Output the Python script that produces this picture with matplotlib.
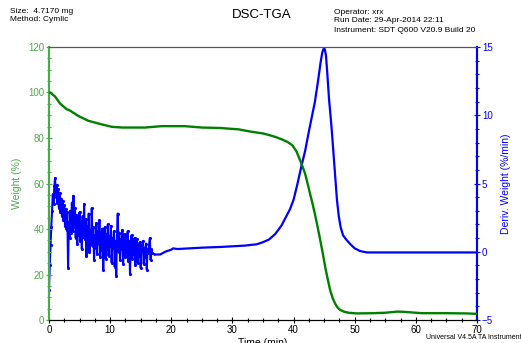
import numpy as np
import matplotlib
matplotlib.use("Agg")
import matplotlib.pyplot as plt
from matplotlib.ticker import MultipleLocator

plt.rcParams['font.family'] = ['Liberation Sans', 'DejaVu Sans']

# ---------------------------------------------------------------------------
# weight curve (%)
w_time = [0, 0.2, 1.0, 1.8, 2.9, 3.3, 3.7, 4.8, 6.4, 8.6, 10.3, 12, 15.7, 18.4,
          22.2, 25, 28, 31, 33, 35, 36, 37, 38, 39, 39.8, 40.5, 41.1, 41.6,
          41.9, 42.3, 42.7, 43.1, 43.5, 43.9, 44.3, 44.8, 45.2, 45.6, 46.0,
          46.4, 46.8, 47.2, 47.6, 48.2, 49.0, 50.3, 53, 55, 57, 58, 61, 65,
          68.3, 70]
w_value = [100, 100, 98.2, 95.2, 92.6, 92.3, 91.6, 89.7, 87.6, 86.0, 84.9, 84.6,
           84.6, 85.2, 85.2, 84.6, 84.4, 83.8, 82.8, 82.0, 81.3, 80.5, 79.5,
           78.3, 76.8, 74.0, 70.0, 66.5, 64.2, 60.0, 55.5, 51.2, 46.5, 41.4,
           36.0, 29.0, 23.0, 17.8, 13.0, 9.6, 7.2, 5.5, 4.5, 3.7, 3.2, 2.9,
           3.0, 3.2, 3.7, 3.6, 3.0, 3.0, 2.9, 2.7]

# derivative (%/min): noisy start, sampled every 0.125 min from 0 to 17 min
d_noise = [-2.8, -1.0, 0.5, 1.8, 3.0, 4.2, 3.5, 4.8,
           5.4, 4.0, 4.9, 3.6, 4.6, 3.2, 4.3, 2.9,
           3.9, 2.6, 3.7, 2.3, 3.4, 1.9, 3.1, 1.6,
           2.9, -1.2, 2.2, 1.0, 3.0, 1.4, 3.6, 1.5,
           4.1, 1.8, 3.2, 1.0, 2.7, 0.6, 2.5, 1.2,
           2.9, 0.8, 2.2, 0.2, 2.6, 1.1, 3.5, 0.9,
           2.4, -0.3, 1.9, 0.5, 2.8, 0.0, 1.6, 0.7,
           3.2, 0.4, 1.8, -0.6, 1.2, 0.3, 2.1, -0.2,
           1.5, 0.6, 2.3, -0.4, 1.4, 0.1, 1.7, -1.3,
           0.9, 1.8, -0.5, 1.3, 0.2, 2.0, -0.3, 1.1,
           0.4, 1.9, -0.8, 1.0, 0.3, 1.5, -1.1, 0.8,
           -1.8, 1.2, 2.8, 0.0, 1.4, -0.6, 0.9, 0.2,
           1.6, -0.9, 0.7, 1.3, -0.4, 1.1, 0.0, 1.5,
           -0.7, 0.8, -1.6, 0.6, 1.2, -0.5, 0.9, -0.2,
           1.0, -1.0, 0.4, 0.9, -0.8, 0.6, -0.3, 0.7,
           -1.2, 0.5, 0.1, 0.8, -0.9, 0.3, -0.4, 0.6,
           -1.3, 0.2, -0.1, 0.5, 1.0, -0.6, 0.2, -0.1]
d_noise_dt = 0.125

# derivative, smooth part after the noise
d_time = [17.3, 18.2, 19, 20, 20.3, 21, 23, 25, 28, 30, 32, 34, 35, 36, 37, 38,
          38.7, 39.4, 40.0, 40.6, 41.3, 41.9, 42.5, 43.0, 43.5, 44.0, 44.4,
          44.7, 44.9, 45.1, 45.3, 45.5, 45.8, 46.2, 46.5, 46.8, 47.1, 47.4,
          47.7, 48.1, 48.7, 49.3, 50.0, 50.9, 52, 56, 60, 65, 70]
d_value = [-0.2, -0.2, 0.0, 0.15, 0.25, 0.2, 0.25, 0.3, 0.35, 0.4, 0.45, 0.55,
           0.7, 0.9, 1.3, 1.9, 2.5, 3.1, 3.8, 4.9, 6.3, 7.4, 8.8, 9.9, 11.0,
           12.5, 13.8, 14.6, 14.85, 14.85, 14.4, 13.2, 11.2, 9.2, 7.4, 5.6,
           3.8, 2.6, 1.8, 1.2, 0.85, 0.55, 0.25, 0.05, -0.05, -0.05, -0.05,
           -0.05, -0.05]

green = "#008000"
light_green = "#4fa84f"
blue = "#0000ff"

#------------------------------------------------------------------------------#
fig = plt.figure(figsize=(5.21, 3.43), dpi=100)
ax = fig.add_axes([0.094, 0.067, 0.8215, 0.796])
ax2 = ax.twinx()

ax.plot(w_time, w_value, color=green, lw=1.7, zorder=3)

t_noise = np.arange(len(d_noise)) * d_noise_dt
ax2.plot(t_noise, d_noise, color=blue, lw=1.5, marker='.', ms=2.5)
ax2.plot([t_noise[-1], d_time[0]], [d_noise[-1], d_value[0]], color=blue, lw=1.5)
ax2.plot(d_time, d_value, color=blue, lw=1.6)

ax.set_zorder(ax2.get_zorder() + 1)
ax.patch.set_visible(False)

ax.set_xlim(0, 70)
ax.set_ylim(0, 120)
ax2.set_ylim(-5, 15)

ax.xaxis.set_major_locator(MultipleLocator(10))
ax.xaxis.set_minor_locator(MultipleLocator(2.5))
ax.yaxis.set_major_locator(MultipleLocator(20))
ax.yaxis.set_minor_locator(MultipleLocator(5))
ax2.yaxis.set_major_locator(MultipleLocator(5))
ax2.yaxis.set_minor_locator(MultipleLocator(1))

ax.tick_params(axis='x', which='major', direction='inout', length=5, width=0.8,
               labelsize=7, pad=1)
ax.tick_params(axis='x', which='minor', direction='inout', length=3, width=0.8)
ax.tick_params(axis='y', which='major', direction='inout', length=5, width=0.8,
               colors=light_green, labelsize=7, pad=1)
ax.tick_params(axis='y', which='minor', direction='inout', length=3, width=0.8,
               colors=light_green)
ax2.tick_params(axis='y', which='major', direction='inout', length=5, width=0.8,
                colors=blue, labelsize=7, pad=1)
ax2.tick_params(axis='y', which='minor', direction='inout', length=3, width=0.8,
                colors=blue)

for a in (ax, ax2):
    a.spines['left'].set_color(light_green)
    a.spines['right'].set_color(blue)
    a.spines['left'].set_linewidth(1.5)
    a.spines['right'].set_linewidth(1.5)
    a.spines['top'].set_color('#555555')
    a.spines['bottom'].set_color('black')

ax.set_ylabel("Weight (%)", color=light_green, fontsize=7.5, labelpad=4)
ax2.set_ylabel("Deriv. Weight (%/min)", color=blue, fontsize=7.5, rotation=90,
               labelpad=6)
ax.set_xlabel("Time (min)", fontsize=7.5, labelpad=2)

# header texts
fig.text(0.019, 0.967, "Size:  4.7170 mg", fontsize=6, va='center')
fig.text(0.019, 0.943, "Method: Cymlic", fontsize=6, va='center')
fig.text(0.503, 0.955, "DSC-TGA", fontsize=9.5, ha='center', va='center')
fig.text(0.641, 0.965, "Operator: xrx", fontsize=6, va='center')
fig.text(0.641, 0.94, "Run Date: 29-Apr-2014 22:11", fontsize=6, va='center')
fig.text(0.641, 0.912, "Instrument: SDT Q600 V20.9 Build 20", fontsize=6, va='center')
fig.text(0.817, 0.015, "Universal V4.5A TA Instruments", fontsize=5, va='center')

fig.savefig("out.png", dpi=100)
